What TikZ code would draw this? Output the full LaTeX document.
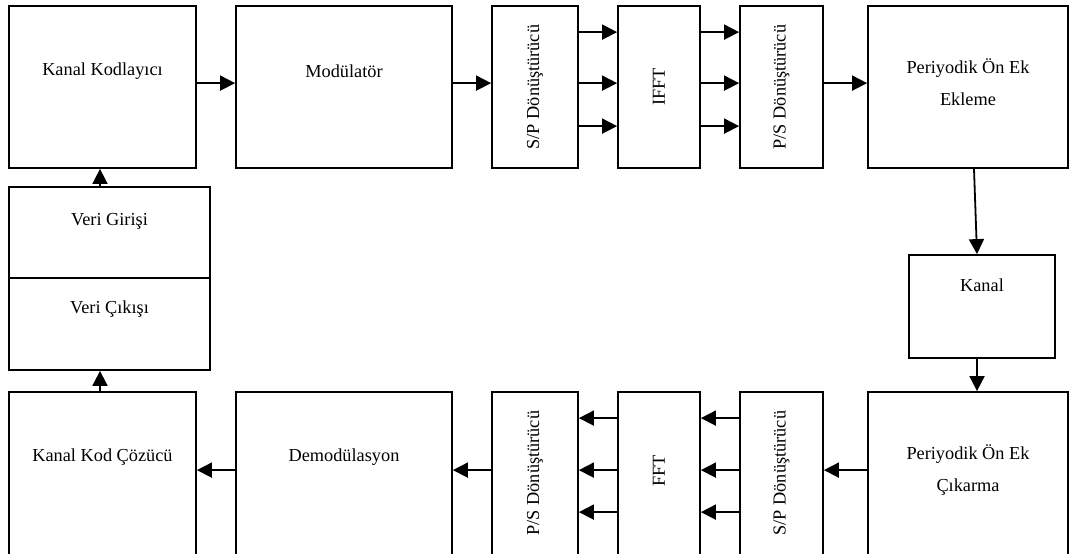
\documentclass[tikz,border=0pt]{standalone}
\usepackage{fontspec}
\setmainfont{Liberation Serif}
\usetikzlibrary{arrows.meta}
\tikzset{
  x=1pt, y=-1pt,
  box/.style={draw, line width=1.8pt, rectangle, inner sep=0pt, fill=white},
  txt/.style={font=\fontsize{18.3}{32}\selectfont, align=center, inner sep=0pt},
  vtxt/.style={txt, rotate=90},
  arr/.style={line width=1.8pt, -{Triangle[length=15pt,width=15pt]}},
}
\begin{document}
\begin{tikzpicture}
\useasboundingbox (0,0) rectangle (1069,554);
% top row
\node[box, minimum width=187pt, minimum height=162pt] (kk) at (102.5,87) {};
\node[box, minimum width=216pt, minimum height=162pt] (mod) at (344,87) {};
\node[box, minimum width=86pt, minimum height=162pt] (sp1) at (535,87) {};
\node[box, minimum width=82pt, minimum height=162pt] (ifft) at (659,87) {};
\node[box, minimum width=83pt, minimum height=162pt] (ps1) at (781.5,87) {};
\node[box, minimum width=200pt, minimum height=162pt] (pe) at (968,87) {};
% channel
\node[box, minimum width=146pt, minimum height=103pt] (kanal) at (982,306.5) {};
% data in/out
\node[box, minimum width=201pt, minimum height=91pt] (vg) at (109.5,232.5) {};
\node[box, minimum width=201pt, minimum height=92pt] (vc) at (109.5,324) {};
% bottom row
\node[box, minimum width=187pt, minimum height=172pt] (kc) at (102.5,478) {};
\node[box, minimum width=216pt, minimum height=172pt] (dem) at (344,478) {};
\node[box, minimum width=86pt, minimum height=172pt] (ps2) at (535,478) {};
\node[box, minimum width=82pt, minimum height=172pt] (fft) at (659,478) {};
\node[box, minimum width=83pt, minimum height=172pt] (sp2) at (781.5,478) {};
\node[box, minimum width=200pt, minimum height=172pt] (pc) at (968,478) {};

% texts
\node[txt] (kkt) at ([yshift=-66pt]kk.north) {Kanal Kodlayıcı};
\node[txt] (modt) at ([yshift=-66pt]mod.north) {Modülatör};
\node[vtxt] (sp1t) at (sp1.center) {S/P Dönüştürücü};
\node[vtxt] (ifftt) at (ifft.center) {IFFT};
\node[vtxt] (ps1t) at (ps1.center) {P/S Dönüştürücü};
\node[txt] (pet) at ([yshift=-77pt]pe.north) {Periyodik Ön Ek\\Ekleme};
\node[txt] (kanalt) at ([yshift=-31pt]kanal.north) {Kanal};
\node[txt] (vgt) at ([yshift=-35pt]vg.north) {Veri Girişi};
\node[txt] (vct) at ([yshift=-32pt]vc.north) {Veri Çıkışı};
\node[txt] (kct) at ([yshift=-66pt]kc.north) {Kanal Kod Çözücü};
\node[txt] (demt) at ([yshift=-66pt]dem.north) {Demodülasyon};
\node[vtxt] (ps2t) at ([yshift=-82pt]ps2.north) {P/S Dönüştürücü};
\node[vtxt] (fftt) at ([yshift=-80pt]fft.north) {FFT};
\node[vtxt] (sp2t) at ([yshift=-82pt]sp2.north) {S/P Dönüştürücü};
\node[txt] (pct) at ([yshift=-79pt]pc.north) {Periyodik Ön Ek\\Çıkarma};

% connectors top row
\draw[arr] ([yshift=-78pt]kk.north east) -- ([yshift=-78pt]mod.north west);
\draw[arr] ([yshift=-78pt]mod.north east) -- ([yshift=-78pt]sp1.north west);
\foreach \o in {27,78,121}{
  \draw[arr] ([yshift=-\o pt]sp1.north east) -- ([yshift=-\o pt]ifft.north west);
  \draw[arr] ([yshift=-\o pt]ifft.north east) -- ([yshift=-\o pt]ps1.north west);
}
\draw[arr] ([yshift=-78pt]ps1.north east) -- ([yshift=-78pt]pe.north west);
% down the right side
\draw[arr] ([xshift=6pt]pe.south) -- ([xshift=-5pt]kanal.north);
\draw[arr] ([xshift=-5pt]kanal.south) -- ([xshift=9pt]pc.north);
% bottom row
\draw[arr] ([yshift=-79pt]pc.north west) -- ([yshift=-79pt]sp2.north east);
\foreach \o in {27,79,121}{
  \draw[arr] ([yshift=-\o pt]sp2.north west) -- ([yshift=-\o pt]fft.north east);
  \draw[arr] ([yshift=-\o pt]fft.north west) -- ([yshift=-\o pt]ps2.north east);
}
\draw[arr] ([yshift=-79pt]ps2.north west) -- ([yshift=-79pt]dem.north east);
\draw[arr] ([yshift=-79pt]dem.north west) -- ([yshift=-79pt]kc.north east);
% left side
\coordinate (xl) at (100,0);
\draw[arr] (kc.north -| xl) -- (vc.south -| xl);
\draw[arr] (vg.north -| xl) -- (kk.south -| xl);
\end{tikzpicture}
\end{document}
